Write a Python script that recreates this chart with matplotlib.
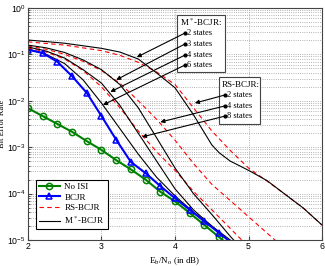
import numpy as np
import matplotlib
matplotlib.use("Agg")
import matplotlib.pyplot as plt

# Eb/N0 grids (dB)
snr_fine = [2.0, 2.2, 2.4, 2.6, 2.8, 3.0, 3.2, 3.4, 3.6, 3.8, 4.0, 4.2, 4.4, 4.6, 4.8]
snr_q = [2.0, 2.25, 2.5, 2.75, 3.0, 3.25, 3.5, 3.75, 4.0, 4.25, 4.5, 4.75, 5.0]
snr_q55 = [2.0, 2.25, 2.5, 2.75, 3.0, 3.25, 3.5, 3.75, 4.0, 4.25, 4.5, 4.75, 5.0,
           5.25, 5.5]

# log10(BER) values
noisi_log = [-2.16, -2.33, -2.5, -2.67, -2.87, -3.06, -3.28, -3.48, -3.7, -3.96,
             -4.17, -4.42, -4.68, -4.94, -5.2]
bcjr_log = [-0.9, -0.97, -1.16, -1.47, -1.83, -2.33, -2.84, -3.32, -3.56, -3.84,
            -4.1, -4.35, -4.6, -4.85, -5.1]

mstar6_log = [-0.88, -1.0, -1.2, -1.55, -2.05, -2.6, -3.15, -3.65, -4.05, -4.4,
              -4.7, -5.0, -5.3]
mstar4_log = [-0.84, -0.93, -1.08, -1.33, -1.62, -2.1, -2.7, -3.3, -3.9, -4.35,
              -4.7, -5.05, -5.4]
mstar3_log = [-0.8, -0.86, -0.96, -1.12, -1.33, -1.65, -2.15, -2.8, -3.45, -4.0,
              -4.45, -4.92, -5.35]

snr_m2 = [2.0, 2.5, 3.0, 3.25, 3.5, 3.75, 4.0, 4.25, 4.5, 4.6, 4.75, 5.0, 5.25,
          5.5, 5.75, 6.0]
mstar2_log = [-0.69, -0.76, -0.87, -0.95, -1.1, -1.4, -1.72, -2.3, -2.95, -3.12,
              -3.3, -3.5, -3.72, -4.02, -4.32, -4.68]

snr_rs2 = [2.0, 2.5, 3.0, 3.25, 3.5, 3.75, 4.0, 4.25, 4.5, 4.75, 5.0, 5.25, 5.5,
           5.75, 6.0]
rs2_log = [-0.73, -0.8, -0.92, -1.02, -1.17, -1.38, -1.65, -2.15, -2.65, -3.07,
           -3.45, -3.73, -4.02, -4.32, -4.68]
rs4_log = [-0.82, -0.89, -1.0, -1.15, -1.35, -1.62, -2.0, -2.4, -2.85, -3.35,
           -3.8, -4.15, -4.5, -4.85, -5.2]
rs8_log = [-0.86, -0.95, -1.1, -1.35, -1.7, -2.15, -2.65, -3.1, -3.5, -3.95,
           -4.35, -4.75, -5.15]

plt.rcParams['font.family'] = 'Liberation Serif'
plt.rcParams['mathtext.fontset'] = 'stix'

fig = plt.figure(figsize=(3.25, 2.66), dpi=100)
ax = fig.add_axes([0.086, 0.098, 0.905, 0.872])

red_kw = dict(color='red', ls='--', lw=0.8, dashes=(4, 3))
ax.semilogy(snr_q, 10 ** np.array(rs8_log), **red_kw)
ax.semilogy(snr_q55, 10 ** np.array(rs4_log), **red_kw)
ax.semilogy(snr_rs2, 10 ** np.array(rs2_log), **red_kw)
ax.semilogy(snr_q, 10 ** np.array(mstar6_log), 'k-', lw=0.8)
ax.semilogy(snr_q, 10 ** np.array(mstar4_log), 'k-', lw=0.8)
ax.semilogy(snr_q, 10 ** np.array(mstar3_log), 'k-', lw=0.8)
ax.semilogy(snr_m2, 10 ** np.array(mstar2_log), 'k-', lw=0.8)
ax.semilogy(snr_fine, 10 ** np.array(noisi_log), '-o', color='#008000', lw=1.5,
            ms=4.5, mfc='none', mew=1.1)
ax.semilogy(snr_fine, 10 ** np.array(bcjr_log), '-^', color='#0000ff', lw=1.5,
            ms=5, mfc='none', mew=1.1)

ax.set_xlim(2, 6)
ax.set_ylim(1e-5, 1)
ax.set_xticks([2, 3, 4, 5, 6])
ax.grid(True, which='major', axis='x', ls=':', color='#999999', lw=0.6)
ax.grid(True, which='both', axis='y', ls=':', color='#999999', lw=0.6)
for s in ax.spines.values():
    s.set_color('#444444')
ax.tick_params(which='both', direction='in', labelsize=6.3, length=3,
               color='#444444', pad=1.5)
ax.tick_params(which='minor', length=1.5)
for lab in ax.get_xticklabels() + ax.get_yticklabels():
    lab.set_family('Liberation Sans')

ax.set_xlabel('E$_\\mathrm{b}$/N$_\\mathrm{o}$ (in dB)', fontsize=6.5)
ax.xaxis.set_label_coords(0.5, -0.065)
ax.set_ylabel('Bit Error Rate', fontsize=6)
ax.yaxis.set_label_coords(-0.073, 0.5)

# legend
h1, = ax.plot([], [], '-o', color='#008000', lw=1.5, ms=4.5, mfc='none', mew=1.1)
h2, = ax.plot([], [], '-^', color='#0000ff', lw=1.5, ms=5, mfc='none', mew=1.1)
h3, = ax.plot([], [], **red_kw)
h4, = ax.plot([], [], 'k-', lw=0.8)
leg = ax.legend([h1, h2, h3, h4], ['No ISI', 'BCJR', 'RS-BCJR', 'M$^*$-BCJR'],
                loc='lower left', bbox_to_anchor=(0.027, 0.047), fontsize=6.5,
                fancybox=False, framealpha=1, edgecolor='black',
                handlelength=2.3, handletextpad=0.5, borderpad=0.35,
                labelspacing=0.25, borderaxespad=0)
leg.get_frame().set_linewidth(0.8)

# annotation boxes
bx = plt.Rectangle((0.507, 0.724), 0.163, 0.246, transform=ax.transAxes,
                   fill=True, fc='white', ec='#444444', lw=0.8, zorder=5)
ax.add_patch(bx)
bx2 = plt.Rectangle((0.65, 0.5), 0.139, 0.203, transform=ax.transAxes,
                    fill=True, fc='white', ec='#444444', lw=0.8, zorder=5)
ax.add_patch(bx2)

ax.text(0.517, 0.937, 'M$^*$-BCJR:', transform=ax.transAxes, fontsize=6.5,
        va='center', zorder=6)
ax.text(0.66, 0.668, 'RS-BCJR:', transform=ax.transAxes, fontsize=6.5,
        va='center', zorder=6)

mstar_labels = ['2 states', '3 states', '4 states', '6 states']
mstar_fy = [0.892, 0.845, 0.797, 0.754]
mstar_tips = [(3.48, -1.06), (3.20, -1.55), (3.12, -1.81), (3.02, -2.09)]
rs_labels = ['2 states', '4 states', '8 states']
rs_fy = [0.625, 0.578, 0.534]
rs_tips = [(4.27, -2.05), (3.80, -2.46), (3.55, -2.78)]

for lab, fy, tip in zip(mstar_labels, mstar_fy, mstar_tips):
    ax.annotate('', xy=(tip[0], 10 ** tip[1]), xycoords='data',
                xytext=(0.534, fy), textcoords='axes fraction',
                arrowprops=dict(arrowstyle='-|>', color='black', lw=0.8,
                                mutation_scale=6, shrinkA=0, shrinkB=0),
                zorder=7)
    ax.plot(0.534, fy, 'ko', ms=2, transform=ax.transAxes, zorder=7)
    ax.text(0.542, fy, lab, transform=ax.transAxes, fontsize=6, va='center',
            zorder=6)

for lab, fy, tip in zip(rs_labels, rs_fy, rs_tips):
    ax.annotate('', xy=(tip[0], 10 ** tip[1]), xycoords='data',
                xytext=(0.67, fy), textcoords='axes fraction',
                arrowprops=dict(arrowstyle='-|>', color='black', lw=0.8,
                                mutation_scale=6, shrinkA=0, shrinkB=0),
                zorder=7)
    ax.plot(0.67, fy, 'ko', ms=2, transform=ax.transAxes, zorder=7)
    ax.text(0.678, fy, lab, transform=ax.transAxes, fontsize=6, va='center',
            zorder=6)

fig.savefig('out.png', dpi=100)
